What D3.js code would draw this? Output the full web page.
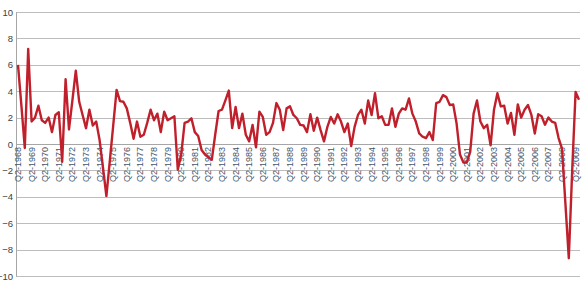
<!DOCTYPE html>
<html>
<head>
<meta charset="utf-8">
<script src="https://cdn.jsdelivr.net/npm/d3@7"></script>
<style>
  body { margin: 0; background: #fff; }
  svg text { font-family: "Liberation Sans", Arial, sans-serif; }
</style>
</head>
<body>
<div id="chart"></div>
<script>
// quarterly growth, Q2-1968 .. Q3-2009
var firstYear = 1968;
var firstQuarter = 2;

var values = [
  6.0, 2.9, -0.3, 7.2, 1.7, 2.0, 2.9, 1.8, 1.6, 2.0,
  0.9, 2.2, 2.4, -1.35, 4.9, 1.1, 3.3, 5.55, 3.2, 2.2,
  1.2, 2.6, 1.4, 1.7, 0.3, -1.8, -3.95, -1.3, 1.4, 4.1,
  3.25, 3.2, 2.7, 1.6, 0.4, 1.7, 0.55, 0.7, 1.6, 2.6,
  1.8, 2.3, 0.9, 2.45, 1.8, 1.95, 2.1, -1.95, -0.8, 1.6,
  1.7, 1.95, 0.9, 0.6, -0.45, -0.8, -1.0, -1.2, 0.7, 2.5,
  2.6, 3.3, 4.05, 1.2, 2.8, 1.2, 2.3, 0.7, 0.2, 1.45,
  -0.25, 2.45, 2.05, 0.7, 0.9, 1.6, 3.1, 2.6, 1.05, 2.7,
  2.85, 2.2, 1.95, 1.45, 1.4, 0.9, 2.25, 1.0, 2.0, 1.05,
  0.2, 1.3, 2.05, 1.55, 2.25, 1.7, 0.9, 1.55, -0.15, 1.3,
  2.2, 2.6, 1.55, 3.3, 2.2, 3.85, 1.95, 2.1, 1.45, 1.45,
  2.7, 1.3, 2.3, 2.7, 2.6, 3.45, 2.3, 1.7, 0.8, 0.55,
  0.45, 0.9, 0.3, 3.1, 3.2, 3.7, 3.55, 2.95, 3.0, 1.55,
  -0.8, -1.4, -1.4, -0.6, 2.3, 3.3, 1.7, 1.2, 1.45, -0.1,
  2.6, 3.85, 2.85, 2.9, 1.55, 2.35, 0.7, 3.0, 2.0, 2.6,
  2.95, 2.2, 0.8, 2.25, 2.1, 1.45, 2.0, 1.7, 1.6, 0.45,
  -0.35, -4.5, -8.65, -2.0, 3.95, 3.35
];

var yTicks = [-10, -8, -6, -4, -2, 0, 2, 4, 6, 8, 10];

var tickLabels = [
  "Q2-1968", "Q2-1969", "Q2-1970", "Q2-1971", "Q2-1972", "Q2-1973", "Q2-1974",
  "Q2-1975", "Q2-1976", "Q2-1977", "Q2-1978", "Q2-1979", "Q2-1980", "Q2-1981",
  "Q2-1982", "Q2-1983", "Q2-1984", "Q2-1985", "Q2-1986", "Q2-1987", "Q2-1988",
  "Q2-1989", "Q2-1990", "Q2-1991", "Q2-1992", "Q2-1993", "Q2-1994", "Q2-1995",
  "Q2-1996", "Q2-1997", "Q2-1998", "Q2-1999", "Q2-2000", "Q2-2001", "Q2-2002",
  "Q2-2003", "Q2-2004", "Q2-2005", "Q2-2006", "Q2-2007", "Q2-2008", "Q2-2009"
];

// category names, one per quarter
var categories = [];
for (var i = 0; i < values.length; i++) {
  var q = (firstQuarter - 1 + i) % 4 + 1;
  var yr = firstYear + Math.floor((firstQuarter - 1 + i) / 4);
  categories.push("Q" + q + "-" + yr);
}

var chartW = 586, chartH = 282;
var plotLeft = 16, plotRight = 580, plotTop = 12, plotBottom = 276;

var svg = d3.select("#chart").append("svg")
  .attr("width", chartW)
  .attr("height", chartH);

var x = d3.scalePoint()
  .domain(categories)
  .range([18, 579]);

var y = d3.scaleLinear()
  .domain([-10, 10])
  .range([plotBottom, plotTop]);

// gridlines
svg.append("g")
  .attr("class", "grid")
  .selectAll("line")
  .data(yTicks)
  .enter().append("line")
  .attr("x1", plotLeft)
  .attr("x2", plotRight)
  .attr("y1", function (d) { return Math.round(y(d)) + 0.5; })
  .attr("y2", function (d) { return Math.round(y(d)) + 0.5; })
  .attr("stroke", "#bdbdbd")
  .attr("stroke-width", 1);

// y axis
var yAxis = d3.axisLeft(y)
  .tickValues(yTicks)
  .tickSize(0)
  .tickPadding(3);

var gy = svg.append("g")
  .attr("transform", "translate(" + plotLeft + ",0)")
  .call(yAxis);
gy.select(".domain").attr("stroke", "#a6a6a6");
gy.selectAll("text")
  .attr("font-size", "9.5px")
  .attr("fill", "#404040");

// zero line
svg.append("line")
  .attr("x1", plotLeft).attr("x2", plotRight)
  .attr("y1", Math.round(y(0)) + 0.5).attr("y2", Math.round(y(0)) + 0.5)
  .attr("stroke", "#a6a6a6");

// category labels, every 4th quarter
svg.append("g")
  .selectAll("text")
  .data(tickLabels)
  .enter().append("text")
  .attr("transform", function (d) {
    return "translate(" + (x(d) + 3) + "," + (y(0) + 3) + ") rotate(-90)";
  })
  .attr("text-anchor", "end")
  .attr("font-size", "9px")
  .attr("fill", "#44546a")
  .text(function (d) { return d; });

// the series
var line = d3.line()
  .x(function (d, i) { return x(categories[i]); })
  .y(function (d) { return y(d); });

svg.append("path")
  .datum(values)
  .attr("d", line)
  .attr("fill", "none")
  .attr("stroke", "#c0202b")
  .attr("stroke-width", 2.4)
  .attr("stroke-linejoin", "round");
</script>
</body>
</html>
